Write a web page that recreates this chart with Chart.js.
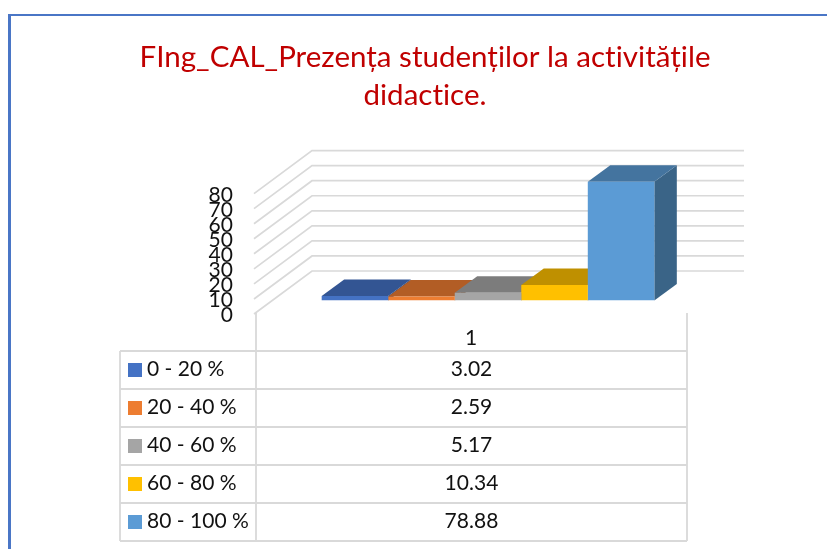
<!DOCTYPE html>
<html>
<head>
<meta charset="utf-8">
<style>
html,body{margin:0;padding:0;background:#fff;overflow:hidden}
#wrap{position:relative;width:827px;height:549px}
#frame{position:absolute;left:8px;top:14px;right:0;bottom:0;border-top:2px solid #4a76c6;border-left:3px solid #4a76c6;pointer-events:none}
canvas{display:block}
</style>
<script src="https://cdn.jsdelivr.net/npm/chart.js@4"></script>
</head>
<body>
<div id="wrap"><canvas id="c" width="827" height="549"></canvas><div id="frame"></div></div>
<script>
const categories = ['1'];
const seriesNames = ['0 - 20 %', '20 - 40 %', '40 - 60 %', '60 - 80 %', '80 - 100 %'];
const seriesValues = [3.02, 2.59, 5.17, 10.34, 78.88];
const seriesLabels = ['3.02', '2.59', '5.17', '10.34', '78.88'];
const frontColors = ['#4472C4', '#ED7D31', '#A5A5A5', '#FFC000', '#5B9BD5'];
const topColors = ['#335593', '#B25D25', '#7C7C7C', '#BF9000', '#44749F'];
const sideColors = ['#2A4676', '#8E4B1E', '#636363', '#997300', '#3A6487'];
const titleLines = ['FIng_CAL_Prezența studenților la activitățile', 'didactice.'];

const FONT = 'Lato, Carlito, sans-serif';
const GRID = '#D9D9D9';

const threeD = {
  id: 'threeD',
  afterLayout(chart) {
    chart.titleBlock.left = 100;
    chart.titleBlock.right = 750;
  },
  beforeDraw(chart) {
    chart.ctx.letterSpacing = '0.02px';
  },
  beforeDatasetsDraw(chart) {
    const ctx = chart.ctx, y = chart.scales.y, area = chart.chartArea;
    const wallDx = 57, wallDy = 43, shiftX = 17, backY = -29.5;
    const left = area.left - shiftX, right = area.right - shiftX;
    ctx.save();
    ctx.strokeStyle = GRID; ctx.lineWidth = 1.7;
    y.ticks.forEach(t => {
      const p = y.getPixelForValue(t.value);
      ctx.beginPath();
      ctx.moveTo(left - 1, p + backY + wallDy);
      ctx.lineTo(left + wallDx, p + backY);
      ctx.lineTo(right + wallDx, p + backY);
      ctx.stroke();
    });
    const dx = 22.5, dy = -16.5;
    chart.data.datasets.forEach((ds, i) => {
      const bar = chart.getDatasetMeta(i).data[0];
      const l = bar.x - bar.width / 2, r = bar.x + bar.width / 2, t = bar.y, b = bar.base;
      ctx.fillStyle = sideColors[i];
      ctx.beginPath();
      ctx.moveTo(r, t); ctx.lineTo(r + dx, t + dy); ctx.lineTo(r + dx, b + dy); ctx.lineTo(r, b);
      ctx.closePath(); ctx.fill();
      ctx.fillStyle = topColors[i];
      ctx.beginPath();
      ctx.moveTo(l, t); ctx.lineTo(l + dx, t + dy); ctx.lineTo(r + dx, t + dy); ctx.lineTo(r, t);
      ctx.closePath(); ctx.fill();
    });
    ctx.restore();
  },
  afterDraw(chart) {
    const ctx = chart.ctx, area = chart.chartArea;
    const shiftX = 17;
    const tableL = 120, colL = area.left - shiftX + 1, colR = area.right - shiftX;
    const topY = 313, firstRow = 351, rowH = 38;
    const n = seriesNames.length;
    ctx.save();
    ctx.strokeStyle = GRID; ctx.lineWidth = 1.8;
    ctx.beginPath();
    ctx.moveTo(colL, topY); ctx.lineTo(colL, firstRow + n * rowH);
    ctx.moveTo(colR, topY); ctx.lineTo(colR, firstRow + n * rowH);
    ctx.moveTo(tableL, firstRow); ctx.lineTo(tableL, firstRow + n * rowH);
    for (let i = 0; i <= n; i++) {
      ctx.moveTo(tableL, firstRow + i * rowH);
      ctx.lineTo(colR, firstRow + i * rowH);
    }
    ctx.stroke();
    ctx.textBaseline = 'middle';
    ctx.font = '21px ' + FONT;
    ctx.fillStyle = '#111';
    seriesNames.forEach((name, i) => {
      const cy = firstRow + i * rowH + rowH / 2;
      ctx.fillStyle = frontColors[i];
      ctx.fillRect(tableL + 8, cy - 7, 14, 14);
      ctx.fillStyle = '#111';
      ctx.textAlign = 'left';
      ctx.fillText(name, tableL + 27, cy - 1);
      ctx.textAlign = 'center';
      ctx.fillText(seriesLabels[i], (colL + colR) / 2, cy - 1);
    });
    ctx.restore();
  }
};

new Chart(document.getElementById('c'), {
  type: 'bar',
  data: {
    labels: categories,
    datasets: seriesNames.map((name, i) => ({
      label: name,
      data: [seriesValues[i]],
      backgroundColor: frontColors[i],
      categoryPercentage: 0.77,
      barPercentage: 1
    }))
  },
  plugins: [threeD],
  options: {
    responsive: false,
    animation: false,
    layout: { padding: { left: 0, right: 123, top: 0, bottom: 0 } },
    plugins: {
      legend: { display: false },
      tooltip: { enabled: false },
      title: {
        display: true,
        text: titleLines,
        color: '#C00000',
        font: { family: FONT, size: 29.5, weight: 'normal', lineHeight: 1.29 },
        padding: { top: 38, bottom: 66 }
      }
    },
    scales: {
      x: {
        grid: { display: false },
        border: { display: false },
        ticks: { color: '#111', font: { family: FONT, size: 21 }, padding: 17, labelOffset: -17, maxRotation: 0 },
        afterFit(s) { s.height = 248.5; }
      },
      y: {
        min: 0, max: 80,
        grid: { display: false },
        border: { display: false },
        ticks: { stepSize: 10, color: '#111', font: { family: FONT, size: 21 }, padding: 31, labelOffset: 15, autoSkip: false },
        afterFit(s) { s.width = 272; }
      }
    }
  }
});
</script>
</body>
</html>
